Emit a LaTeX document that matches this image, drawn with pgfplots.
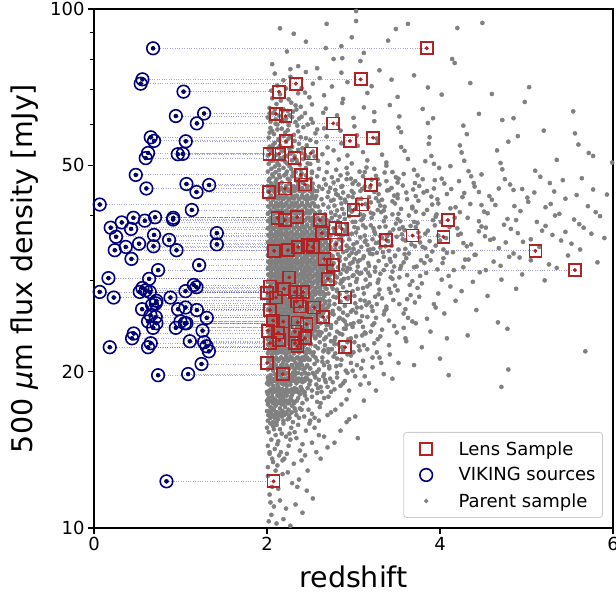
\documentclass[border=0pt]{standalone}
\usepackage{pgfplots}
\pgfplotsset{compat=1.18}
\usepackage{pgfplotstable}
\usepackage{fontspec}
\setmainfont{DejaVu Sans}
\definecolor{lensred}{RGB}{178,34,34}
\definecolor{vikblue}{RGB}{0,0,128}
\definecolor{parentgrey}{RGB}{128,128,128}

% VIKING source redshift (zv), redshift of matched lens (zl), 500um flux (S)
\pgfplotstableread{
zv zl S
0.683 3.847 84.0
0.560 3.083 73.2
0.540 2.334 71.8
1.035 2.138 69.3
0.946 2.215 62.2
1.273 2.103 62.9
1.189 2.766 60.2
0.656 3.226 56.6
0.694 2.959 55.7
1.061 2.219 55.6
0.625 2.505 52.8
0.598 2.319 51.6
0.969 2.141 52.5
1.027 2.030 52.6
0.483 2.392 47.9
0.606 2.207 45.1
1.069 2.439 46.0
1.185 2.025 44.4
1.331 3.199 45.8
0.066 3.098 42.0
1.131 3.000 41.0
0.193 2.792 37.9
0.321 2.612 38.8
0.456 2.123 39.6
0.587 4.091 39.1
0.706 2.350 39.7
0.914 2.207 39.3
0.917 2.350 39.6
0.428 2.869 37.7
0.255 4.039 36.4
0.694 3.683 36.7
0.868 3.376 35.9
0.521 2.801 35.3
0.688 2.528 34.9
0.367 2.361 34.8
0.240 5.103 34.3
0.954 2.242 34.3
1.420 2.635 37.0
1.420 2.473 35.2
0.433 2.664 33.0
0.741 5.560 31.4
1.215 2.759 32.1
0.167 2.257 30.3
0.637 2.705 30.2
0.066 2.002 28.5
0.228 2.103 27.8
0.560 2.196 29.0
0.598 2.323 28.7
0.529 2.419 28.5
0.645 2.323 28.5
1.058 2.419 28.6
1.154 2.034 29.4
1.185 2.196 29.1
0.884 2.904 27.8
0.722 2.343 27.4
0.556 2.034 26.4
0.671 2.381 26.9
0.714 2.343 27.1
0.972 2.381 26.4
1.058 2.546 26.6
1.189 2.034 26.3
0.653 2.650 25.7
0.714 2.650 25.5
0.625 2.188 25.0
0.722 2.458 24.8
0.683 2.323 24.3
1.000 2.354 25.0
1.050 2.458 24.8
1.069 2.354 24.8
0.946 2.014 24.3
1.304 2.072 25.4
1.255 2.130 24.0
0.459 2.323 23.7
0.440 2.439 23.2
1.108 2.141 22.9
0.656 2.323 22.7
0.625 2.902 22.3
0.182 2.354 22.3
1.273 2.034 22.8
1.301 2.354 22.4
1.328 2.034 21.9
1.243 2.002 20.7
0.741 2.181 19.7
1.088 2.181 19.8
0.838 2.076 12.3
}\pairs

\pgfplotstableread{
z S
3.847 84.0
3.083 73.2
2.334 71.8
2.138 69.3
2.103 62.8
2.215 62.2
2.766 60.2
2.219 55.6
2.959 55.7
3.226 56.5
2.030 52.5
2.141 52.6
2.319 51.6
2.505 52.7
2.392 47.9
2.439 45.9
2.207 45.1
2.025 44.4
3.199 45.8
3.000 41.0
3.098 42.0
2.123 39.6
2.207 39.2
2.350 39.7
2.612 39.2
2.635 37.0
2.792 37.8
2.869 37.7
2.083 34.2
2.242 34.3
2.361 34.8
2.473 35.1
2.528 34.8
2.801 35.2
3.376 35.9
3.683 36.6
4.039 36.4
4.091 39.2
5.103 34.2
5.560 31.4
2.664 33.0
2.759 32.1
2.705 30.2
2.257 30.4
2.034 29.2
2.196 28.9
2.323 28.5
2.419 28.5
2.904 27.8
2.002 28.4
2.103 27.8
2.343 27.3
2.381 26.7
2.546 26.6
2.650 25.5
2.034 26.3
2.072 25.1
2.188 25.0
2.354 24.9
2.458 24.7
2.014 24.0
2.130 23.8
2.323 23.9
2.439 23.2
2.141 23.0
2.034 22.7
2.323 22.7
2.354 22.4
2.902 22.3
2.002 20.8
2.181 19.8
2.076 12.3
}\lens

\pgfplotstableread{
z S
2.02 10.3
2.05 10.6
2.11 10.2
2.19 10.4
2.27 10.1
2.08 11.0
2.15 11.3
2.03 11.6
2.22 10.9
2.33 11.1
2.41 10.7
2.06 12.0
2.13 11.9
2.29 12.2
2.01 12.6
2.18 12.7
2.37 12.4
2.10 12.9
2.46 11.8
2.24 12.8
2.53 11.4
2.04 11.2
2.01 13.1
2.07 13.4
2.12 13.2
2.20 13.6
2.31 13.3
2.44 13.8
2.03 13.9
2.09 14.2
2.16 14.0
2.25 14.4
2.38 14.1
2.52 14.6
2.05 14.8
2.13 14.7
2.22 15.0
2.34 14.9
2.02 15.3
2.08 15.5
2.17 15.2
2.28 15.6
2.45 15.4
2.60 15.1
2.11 15.8
2.04 15.9
2.19 15.9
2.36 15.8
2.06 13.6
2.14 13.8
2.27 14.8
2.01 14.4
2.10 15.1
2.23 13.9
2.41 14.5
2.70 14.3
2.03 14.0
2.15 15.5
2.32 15.3
2.49 15.9
2.00 15.6
2.12 14.5
2.26 15.2
2.57 14.0
2.07 15.7
2.18 13.5
2.40 13.5
2.85 15.4
3.05 14.9
2.01 16.1
2.04 16.3
2.07 16.0
2.10 16.4
2.13 16.2
2.16 16.5
2.19 16.1
2.22 16.6
2.26 16.3
2.30 16.0
2.34 16.5
2.02 16.8
2.05 16.6
2.08 16.9
2.12 16.7
2.15 17.0
2.18 16.8
2.21 17.1
2.25 16.9
2.29 17.2
2.33 16.8
2.38 17.0
2.43 16.4
2.48 16.9
2.55 16.3
2.61 17.1
2.01 17.3
2.04 17.1
2.07 17.4
2.10 17.2
2.13 17.5
2.17 17.3
2.20 17.6
2.24 17.4
2.27 17.7
2.31 17.5
2.36 17.8
2.41 17.4
2.46 17.7
2.52 17.9
2.58 17.5
2.66 17.8
2.74 16.7
2.02 17.8
2.06 17.9
2.09 17.7
2.12 18.0
2.15 17.8
2.19 17.9
2.23 18.0
2.28 17.9
2.03 16.5
2.11 16.0
2.24 16.2
2.37 16.3
2.50 16.1
2.86 17.3
2.95 16.2
3.12 17.6
2.40 16.9
2.06 17.0
2.17 16.4
2.32 17.0
2.00 16.8
2.00 17.6
2.09 16.3
2.44 18.0
2.70 16.5
2.01 18.1
2.03 18.4
2.06 18.2
2.08 18.6
2.11 18.3
2.13 18.7
2.16 18.1
2.18 18.5
2.21 18.2
2.23 18.8
2.26 18.4
2.29 18.1
2.32 18.6
2.35 18.3
2.39 18.7
2.43 18.2
2.47 18.6
2.52 18.4
2.57 18.9
2.63 18.3
2.70 18.7
2.78 18.5
2.02 18.9
2.05 19.1
2.07 18.8
2.10 19.2
2.12 18.9
2.15 19.3
2.17 19.0
2.20 19.4
2.22 19.1
2.25 19.5
2.28 19.2
2.31 19.6
2.34 19.0
2.37 19.4
2.41 19.1
2.45 19.5
2.50 19.2
2.55 19.7
2.60 19.3
2.66 19.8
2.73 19.4
2.81 19.9
2.90 19.2
3.02 19.6
3.18 19.0
3.35 19.8
4.10 19.7
4.71 18.7
2.01 19.5
2.04 19.7
2.06 19.4
2.09 19.8
2.11 19.6
2.14 19.9
2.16 19.7
2.19 20.0
2.21 19.8
2.24 19.9
2.27 19.7
2.30 19.9
2.33 19.8
2.36 19.9
2.40 19.8
2.44 19.9
2.48 19.8
2.53 19.9
2.00 18.3
2.00 19.0
2.14 18.4
2.27 18.9
2.38 18.1
2.49 18.9
2.58 18.2
2.68 19.1
2.85 18.8
2.95 18.4
3.08 18.9
2.19 18.9
2.08 19.3
2.31 18.4
2.42 19.3
2.56 19.5
2.62 18.7
2.76 19.1
2.01 20.2
2.04 20.4
2.07 20.1
2.09 20.5
2.12 20.3
2.15 20.1
2.17 20.6
2.20 20.2
2.23 20.5
2.26 20.3
2.29 20.6
2.32 20.1
2.35 20.4
2.38 20.7
2.42 20.2
2.46 20.5
2.50 20.3
2.55 20.7
2.60 20.2
2.66 20.6
2.72 20.3
2.80 20.5
2.91 20.1
3.04 20.6
3.22 20.4
4.79 20.2
2.02 20.9
2.05 21.1
2.08 20.8
2.10 21.2
2.13 21.0
2.16 21.3
2.19 20.9
2.21 21.2
2.24 21.0
2.27 21.4
2.30 21.1
2.33 20.8
2.36 21.3
2.40 21.0
2.44 21.4
2.48 21.1
2.53 21.5
2.58 21.0
2.64 21.3
2.70 20.9
2.77 21.4
2.86 21.1
2.97 21.5
3.11 21.0
3.30 21.3
3.52 20.8
2.01 21.7
2.03 22.0
2.06 21.6
2.09 21.9
2.11 21.7
2.14 22.1
2.17 21.8
2.20 22.2
2.22 21.6
2.25 21.9
2.28 22.2
2.31 21.7
2.34 22.0
2.37 21.8
2.41 22.2
2.45 21.7
2.49 22.0
2.54 21.8
2.59 22.2
2.65 21.9
2.71 22.1
2.79 21.7
2.88 22.0
3.00 21.8
3.16 22.1
3.42 21.6
5.68 21.9
2.02 22.5
2.05 22.8
2.07 22.4
2.10 22.7
2.13 22.4
2.15 22.9
2.18 22.6
2.21 22.4
2.24 22.8
2.27 22.5
2.30 22.9
2.33 22.6
2.36 22.4
2.39 22.8
2.43 22.5
2.47 22.9
2.51 22.6
2.56 22.4
2.61 22.8
2.67 22.5
2.74 22.9
2.82 22.6
2.93 22.8
3.06 22.4
3.24 22.7
3.61 22.9
2.01 23.1
2.04 23.3
2.06 23.0
2.09 23.4
2.12 23.2
2.14 23.5
2.17 23.1
2.20 23.4
2.23 23.2
2.25 23.6
2.28 23.0
2.31 23.3
2.34 23.6
2.37 23.2
2.40 23.5
2.44 23.1
2.48 23.4
2.52 23.7
2.56 23.2
2.61 23.5
2.66 23.1
2.72 23.6
2.79 23.3
2.87 23.6
2.97 23.2
3.10 23.5
3.28 23.1
3.89 23.9
2.02 23.8
2.05 24.1
2.08 23.9
2.11 24.2
2.13 23.8
2.16 24.1
2.19 24.3
2.22 23.9
2.24 24.2
2.27 24.4
2.30 23.8
2.33 24.1
2.36 24.3
2.39 23.9
2.42 24.2
2.46 24.4
2.50 23.9
2.54 24.2
2.58 24.4
2.63 23.8
2.68 24.1
2.74 24.3
2.81 23.9
2.89 24.2
2.99 24.4
3.13 23.8
3.33 24.1
3.58 24.3
4.78 24.2
2.01 24.7
2.03 25.0
2.06 24.6
2.09 24.9
2.12 25.1
2.15 24.7
2.18 25.0
2.21 24.6
2.23 24.9
2.26 25.2
2.29 24.7
2.32 25.0
2.35 24.6
2.38 24.9
2.41 25.2
2.45 24.7
2.49 25.0
2.53 24.6
2.57 25.2
2.62 24.8
2.67 25.1
2.73 24.6
2.80 24.9
2.88 25.2
2.97 24.7
3.08 25.0
3.22 24.6
3.41 25.1
3.72 24.8
4.67 24.9
2.02 25.5
2.05 25.8
2.07 25.4
2.10 25.7
2.13 25.9
2.16 25.5
2.18 25.8
2.21 25.4
2.24 25.7
2.27 26.0
2.30 25.5
2.33 25.8
2.36 25.4
2.39 25.7
2.43 26.0
2.47 25.5
2.51 25.8
2.55 25.4
2.60 25.7
2.65 26.0
2.71 25.5
2.77 25.8
2.84 25.4
2.93 25.7
3.03 26.0
3.16 25.5
3.35 25.8
3.63 25.4
4.05 25.9
2.01 26.3
2.04 26.6
2.06 26.2
2.09 26.5
2.12 26.8
2.14 26.3
2.17 26.6
2.20 26.2
2.23 26.5
2.26 26.8
2.29 26.3
2.32 26.6
2.35 26.2
2.38 26.5
2.41 26.8
2.45 26.3
2.48 26.6
2.52 26.2
2.56 26.5
2.60 26.8
2.65 26.3
2.70 26.6
2.76 26.2
2.83 26.5
2.90 26.8
2.99 26.3
3.09 26.6
3.22 26.2
3.38 26.7
3.60 26.4
3.95 26.6
4.42 26.3
2.02 27.1
2.05 27.4
2.07 27.0
2.10 27.3
2.13 27.6
2.16 27.1
2.19 27.4
2.21 27.0
2.24 27.3
2.27 27.6
2.30 27.1
2.33 27.4
2.36 27.0
2.40 27.3
2.43 27.6
2.47 27.1
2.50 27.4
2.54 27.0
2.58 27.3
2.62 27.6
2.67 27.1
2.72 27.4
2.78 27.0
2.85 27.3
2.93 27.6
3.02 27.1
3.13 27.4
3.27 27.0
3.46 27.5
3.71 27.2
4.18 27.4
2.01 28.0
2.03 28.3
2.06 27.9
2.09 28.2
2.11 28.5
2.14 28.0
2.17 28.3
2.20 27.9
2.22 28.2
2.25 28.5
2.28 28.0
2.31 28.3
2.34 27.9
2.37 28.2
2.41 28.5
2.44 28.0
2.48 28.3
2.52 27.9
2.56 28.2
2.61 28.5
2.66 28.0
2.71 28.3
2.77 27.9
2.84 28.2
2.92 28.5
3.01 28.0
3.12 28.3
3.25 27.9
3.43 28.4
3.66 28.1
3.98 28.3
4.55 28.0
2.02 28.9
2.05 29.2
2.08 28.8
2.10 29.1
2.13 29.4
2.16 28.9
2.19 29.2
2.22 28.8
2.24 29.1
2.27 29.4
2.30 28.9
2.33 29.2
2.36 28.8
2.40 29.1
2.43 29.4
2.47 28.9
2.51 29.2
2.55 28.8
2.59 29.1
2.64 29.4
2.69 28.9
2.75 29.2
2.81 28.8
2.88 29.1
2.96 29.4
3.05 28.9
3.16 29.2
3.30 28.8
3.48 29.3
3.74 29.0
4.12 29.2
4.88 28.9
2.01 29.8
2.04 30.1
2.06 29.7
2.09 30.0
2.12 30.3
2.15 29.8
2.18 30.1
2.20 29.7
2.23 30.0
2.26 30.3
2.29 29.8
2.32 30.1
2.35 29.7
2.38 30.0
2.42 30.3
2.46 29.8
2.49 30.1
2.53 29.7
2.58 30.0
2.62 30.3
2.67 29.8
2.73 30.1
2.79 29.7
2.86 30.0
2.94 30.3
3.03 29.8
3.14 30.1
3.28 29.7
3.45 30.2
3.68 29.9
4.02 30.1
4.38 29.8
5.21 30.0
2.02 30.7
2.05 31.0
2.07 30.6
2.10 30.9
2.13 31.2
2.16 30.7
2.19 31.0
2.21 30.6
2.24 30.9
2.27 31.2
2.30 30.7
2.33 31.0
2.36 30.6
2.40 30.9
2.43 31.2
2.47 30.7
2.50 31.0
2.54 30.6
2.58 30.9
2.63 31.2
2.68 30.7
2.73 31.0
2.79 30.6
2.85 30.9
2.92 31.2
3.00 30.7
3.09 31.0
3.19 30.6
3.31 30.9
3.45 31.2
3.62 30.7
3.84 31.0
4.10 30.6
4.46 31.1
4.95 30.8
2.01 31.6
2.03 31.9
2.06 31.5
2.09 31.8
2.11 32.1
2.14 31.6
2.17 31.9
2.20 31.5
2.22 31.8
2.25 32.1
2.28 31.6
2.31 31.9
2.34 31.5
2.38 31.8
2.41 32.1
2.45 31.6
2.48 31.9
2.52 31.5
2.56 31.8
2.61 32.1
2.65 31.6
2.70 31.9
2.76 31.5
2.82 31.8
2.89 32.1
2.96 31.6
3.05 31.9
3.14 31.5
3.25 31.8
3.38 32.1
3.54 31.6
3.73 31.9
3.97 31.5
4.27 31.8
4.70 32.0
5.35 31.7
2.02 32.5
2.05 32.8
2.08 32.4
2.10 32.7
2.13 33.0
2.16 32.5
2.18 32.8
2.21 32.4
2.24 32.7
2.27 33.0
2.30 32.5
2.33 32.8
2.36 32.4
2.39 32.7
2.43 33.0
2.46 32.5
2.50 32.8
2.54 32.4
2.58 32.7
2.62 33.0
2.67 32.5
2.72 32.8
2.77 32.4
2.84 32.7
2.91 33.0
2.99 32.5
3.07 32.8
3.17 32.4
3.29 32.7
3.42 33.0
3.58 32.5
3.78 32.8
4.03 32.4
4.33 32.9
4.62 32.6
5.05 32.8
5.82 32.5
2.01 33.5
2.04 33.8
2.07 33.4
2.09 33.7
2.12 34.0
2.15 33.5
2.18 33.8
2.20 33.4
2.23 33.7
2.26 34.0
2.29 33.5
2.32 33.8
2.35 33.4
2.38 33.7
2.42 34.0
2.45 33.5
2.49 33.8
2.53 33.4
2.57 33.7
2.61 34.0
2.66 33.5
2.71 33.8
2.76 33.4
2.82 33.7
2.88 34.0
2.95 33.5
3.03 33.8
3.12 33.4
3.22 33.7
3.34 34.0
3.48 33.5
3.64 33.8
3.85 33.4
4.08 33.9
4.40 33.6
4.85 33.8
5.48 33.5
2.02 34.5
2.05 34.8
2.07 34.4
2.10 34.7
2.13 35.0
2.16 34.5
2.19 34.8
2.21 34.4
2.24 34.7
2.27 35.0
2.30 34.5
2.33 34.8
2.36 34.4
2.40 34.7
2.43 35.0
2.47 34.5
2.50 34.8
2.54 34.4
2.59 34.7
2.63 35.0
2.68 34.5
2.73 34.8
2.79 34.4
2.85 34.7
2.92 35.0
3.00 34.5
3.09 34.8
3.19 34.4
3.31 34.7
3.44 35.0
3.60 34.5
3.80 34.8
4.04 34.4
4.31 34.9
4.68 34.6
5.15 34.8
5.62 34.4
2.01 35.5
2.04 35.8
2.06 35.4
2.09 35.7
2.12 36.0
2.15 35.5
2.17 35.8
2.20 35.4
2.23 35.7
2.26 36.0
2.29 35.5
2.32 35.8
2.35 35.4
2.39 35.7
2.42 36.0
2.46 35.5
2.50 35.8
2.54 35.4
2.58 35.7
2.63 36.0
2.68 35.5
2.74 35.8
2.80 35.4
2.87 35.7
2.95 36.0
3.04 35.5
3.14 35.8
3.26 35.4
3.40 35.7
3.57 36.0
3.77 35.5
4.00 35.8
4.27 35.4
4.58 35.9
4.96 35.6
5.40 35.8
2.02 36.6
2.05 36.9
2.08 36.5
2.11 36.8
2.14 37.1
2.17 36.6
2.20 36.9
2.22 36.5
2.25 36.8
2.28 37.1
2.31 36.6
2.34 36.9
2.38 36.5
2.41 36.8
2.45 37.1
2.49 36.6
2.53 36.9
2.57 36.5
2.62 36.8
2.67 37.1
2.73 36.6
2.79 36.9
2.86 36.5
2.94 36.8
3.03 37.1
3.13 36.6
3.25 36.9
3.39 36.5
3.56 36.8
3.75 37.1
3.98 36.6
4.24 36.9
4.52 36.5
4.90 37.0
5.30 36.7
5.75 36.9
2.01 37.8
2.04 38.1
2.07 37.7
2.10 38.0
2.13 38.3
2.16 37.8
2.19 38.1
2.22 37.7
2.25 38.0
2.28 38.3
2.31 37.8
2.35 38.1
2.38 37.7
2.42 38.0
2.46 38.3
2.50 37.8
2.55 38.1
2.60 37.7
2.65 38.0
2.71 38.3
2.77 37.8
2.84 38.1
2.92 37.7
3.01 38.0
3.11 38.3
3.23 37.8
3.37 38.1
3.53 37.7
3.72 38.0
3.94 38.3
4.20 37.8
4.48 38.1
4.82 37.7
5.22 38.2
5.66 37.9
2.02 39.0
2.05 39.4
2.08 38.9
2.11 39.2
2.14 39.6
2.17 39.0
2.20 39.4
2.23 38.9
2.26 39.2
2.30 39.6
2.33 39.0
2.37 39.4
2.40 38.9
2.44 39.2
2.48 39.6
2.53 39.0
2.58 39.4
2.63 38.9
2.69 39.2
2.75 39.6
2.82 39.0
2.90 39.4
2.99 38.9
3.09 39.2
3.21 39.6
3.35 39.0
3.51 39.4
3.70 38.9
3.92 39.2
4.17 39.6
4.45 39.0
4.78 39.4
5.12 38.9
5.55 39.3
2.01 40.3
2.04 40.7
2.07 40.2
2.10 40.5
2.13 40.9
2.17 40.3
2.20 40.7
2.23 40.2
2.27 40.5
2.30 40.9
2.34 40.3
2.38 40.7
2.42 40.2
2.46 40.5
2.51 40.9
2.56 40.3
2.61 40.7
2.67 40.2
2.74 40.5
2.81 40.9
2.89 40.3
2.98 40.7
3.08 40.2
3.20 40.5
3.35 40.9
3.52 40.3
3.72 40.7
3.96 40.2
4.23 40.6
4.55 40.4
4.93 40.8
5.38 40.3
5.80 40.6
2.02 41.6
2.05 42.0
2.08 41.5
2.11 41.8
2.15 42.2
2.18 41.6
2.21 42.0
2.25 41.5
2.28 41.8
2.32 42.2
2.36 41.6
2.40 42.0
2.44 41.5
2.49 41.8
2.54 42.2
2.59 41.6
2.65 42.0
2.71 41.5
2.78 41.8
2.86 42.2
2.95 41.6
3.05 42.0
3.17 41.5
3.31 41.8
3.48 42.2
3.68 41.6
3.91 42.0
4.18 41.5
4.48 41.9
4.86 41.7
5.28 42.1
2.01 43.0
2.04 43.4
2.07 42.9
2.11 43.2
2.14 43.6
2.18 43.0
2.21 43.4
2.25 42.9
2.29 43.2
2.33 43.6
2.37 43.0
2.42 43.4
2.46 42.9
2.51 43.2
2.57 43.6
2.63 43.0
2.70 43.4
2.77 42.9
2.85 43.2
2.94 43.6
3.05 43.0
3.18 43.4
3.33 42.9
3.51 43.2
3.72 43.6
3.97 43.0
4.26 43.4
4.60 42.9
5.01 43.3
5.45 43.1
5.93 43.9
2.02 44.4
2.06 44.8
2.09 44.3
2.13 44.6
2.16 45.0
2.20 44.4
2.24 44.8
2.28 44.3
2.32 44.6
2.37 45.0
2.41 44.4
2.46 44.8
2.52 44.3
2.58 44.6
2.64 45.0
2.71 44.4
2.79 44.8
2.88 44.3
2.98 44.6
3.10 45.0
3.24 44.4
3.41 44.8
3.61 44.3
3.85 44.6
4.13 45.0
4.45 44.4
4.85 44.8
5.32 44.5
5.77 44.9
2.01 45.6
2.05 46.1
2.09 45.5
2.13 45.9
2.17 46.3
2.22 45.6
2.26 46.1
2.31 45.5
2.36 45.9
2.41 46.3
2.47 45.6
2.53 46.1
2.60 45.5
2.68 45.9
2.77 46.3
2.87 45.6
2.99 46.1
3.13 45.5
3.30 45.9
3.51 46.3
3.76 45.6
4.05 46.1
4.40 45.5
4.81 45.9
5.27 46.2
2.03 47.1
2.07 47.6
2.11 47.0
2.15 47.4
2.20 47.8
2.24 47.1
2.29 47.6
2.34 47.0
2.39 47.4
2.45 47.8
2.51 47.1
2.58 47.6
2.66 47.0
2.75 47.4
2.85 47.8
2.97 47.1
3.11 47.6
3.28 47.0
3.49 47.4
3.74 47.8
4.02 47.1
4.36 47.6
4.75 47.0
5.16 47.5
5.64 47.2
2.01 48.6
2.05 49.2
2.10 48.5
2.14 49.0
2.19 49.4
2.23 48.6
2.28 49.2
2.33 48.5
2.39 49.0
2.45 49.4
2.52 48.6
2.60 49.2
2.69 48.5
2.80 49.0
2.92 49.4
3.07 48.6
3.24 49.2
3.45 48.5
3.70 49.0
3.99 49.4
4.33 48.7
4.72 49.1
5.10 48.8
5.99 50.6
2.02 50.3
2.07 51.0
2.12 50.5
2.17 51.3
2.23 50.4
2.29 51.1
2.35 50.6
2.42 51.4
2.50 50.3
2.59 51.0
2.70 50.5
2.83 51.3
2.98 50.4
3.16 51.1
3.38 50.6
3.63 51.4
3.93 50.3
4.28 51.0
4.70 50.5
5.35 51.2
2.01 52.2
2.06 53.0
2.11 52.4
2.17 53.3
2.23 52.1
2.29 52.9
2.36 53.5
2.44 52.3
2.53 53.1
2.64 52.5
2.77 53.4
2.93 52.2
3.11 53.0
3.33 52.4
3.59 53.3
3.90 52.1
4.25 52.9
4.66 53.4
2.03 54.3
2.09 55.2
2.15 54.5
2.22 55.5
2.29 54.2
2.37 55.0
2.46 54.6
2.57 55.4
2.70 54.1
2.86 55.1
3.05 54.5
3.28 55.3
3.55 54.2
3.87 55.0
4.23 54.6
4.79 55.5
5.60 54.8
2.02 56.5
2.08 57.4
2.14 56.2
2.21 57.8
2.28 56.9
2.36 58.1
2.45 56.4
2.56 57.6
2.69 56.8
2.85 58.3
3.04 57.1
3.27 56.3
3.55 57.9
3.88 56.6
4.31 57.4
4.90 56.9
2.04 59.0
2.10 60.1
2.17 58.8
2.25 59.7
2.33 60.6
2.42 59.2
2.53 60.4
2.66 58.9
2.82 60.0
3.01 59.4
3.24 60.8
3.52 59.1
3.86 60.3
4.27 59.6
2.01 61.8
2.07 63.0
2.14 62.3
2.22 61.5
2.30 63.4
2.40 62.0
2.51 61.4
2.65 63.1
2.81 62.4
3.00 61.7
3.24 63.3
3.53 62.1
3.92 61.6
4.45 62.8
2.03 64.5
2.11 65.6
2.19 64.1
2.28 66.0
2.39 64.8
2.52 65.5
2.68 64.3
2.87 65.9
3.12 64.6
3.42 65.3
3.80 64.2
2.06 67.3
2.15 68.5
2.25 67.0
2.36 68.8
2.49 67.6
2.66 68.2
2.88 67.1
3.16 68.9
3.51 67.7
4.02 68.4
2.06 78.3
2.27 76.6
2.36 77.6
2.45 75.6
2.27 74.0
2.12 71.2
2.19 72.9
2.40 70.4
2.53 71.8
2.61 73.6
2.75 70.9
2.93 72.3
3.21 71.0
3.44 73.1
3.86 70.6
4.35 72.0
2.09 75.1
2.58 76.9
2.86 75.4
3.30 76.2
3.70 74.5
2.77 80.1
2.87 80.4
3.08 79.4
4.14 80.1
4.17 78.7
2.68 84.1
2.86 84.8
3.12 82.3
2.23 82.8
2.45 86.5
2.69 93.6
3.63 93.6
3.49 91.5
4.20 91.9
4.49 94.0
3.03 94.8
3.03 99.1
2.31 89.6
2.15 91.8
2.98 88.2
3.40 86.9
5.54 63.5
4.98 66.2
5.20 58.3
5.72 52.8
5.03 70.7
4.60 68.6
5.56 57.6
5.77 52.1
4.85 61.6
4.72 61.1
}\parent

% further parent-sample sources (dense core and intermediate redshifts)
\pgfplotstableread{
z S
2.015 16.5
2.045 16.7
2.075 16.5
2.105 16.7
2.135 16.5
2.165 16.7
2.195 16.5
2.225 16.7
2.255 16.5
2.285 16.7
2.015 17.4
2.045 17.6
2.075 17.4
2.105 17.6
2.135 17.4
2.165 17.6
2.195 17.4
2.225 17.6
2.255 17.4
2.285 17.6
2.315 17.4
2.345 17.6
2.015 18.3
2.045 18.5
2.075 18.3
2.105 18.5
2.135 18.3
2.165 18.5
2.195 18.3
2.225 18.5
2.255 18.3
2.285 18.5
2.315 18.3
2.345 18.5
2.375 18.3
2.405 18.5
2.435 18.3
2.015 19.2
2.045 19.4
2.075 19.2
2.105 19.4
2.135 19.2
2.165 19.4
2.195 19.2
2.225 19.4
2.255 19.2
2.285 19.4
2.315 19.2
2.345 19.4
2.375 19.2
2.405 19.4
2.435 19.2
2.465 19.4
2.495 19.2
2.015 20.3
2.045 20.6
2.075 20.3
2.105 20.6
2.135 20.3
2.165 20.6
2.195 20.3
2.225 20.6
2.255 20.3
2.285 20.6
2.315 20.3
2.345 20.6
2.375 20.3
2.405 20.6
2.435 20.3
2.465 20.6
2.495 20.3
2.015 21.1
2.045 21.3
2.075 21.1
2.105 21.3
2.135 21.1
2.165 21.3
2.195 21.1
2.225 21.3
2.255 21.1
2.285 21.3
2.315 21.1
2.345 21.3
2.375 21.1
2.405 21.3
2.435 21.1
2.465 21.3
2.495 21.1
2.015 21.8
2.045 22.1
2.075 21.8
2.105 22.1
2.135 21.8
2.165 22.1
2.195 21.8
2.225 22.1
2.255 21.8
2.285 22.1
2.315 21.8
2.345 22.1
2.375 21.8
2.405 22.1
2.435 21.8
2.465 22.1
2.495 21.8
2.015 22.6
2.045 22.8
2.075 22.6
2.105 22.8
2.135 22.6
2.165 22.8
2.195 22.6
2.225 22.8
2.255 22.6
2.285 22.8
2.315 22.6
2.345 22.8
2.375 22.6
2.405 22.8
2.435 22.6
2.465 22.8
2.495 22.6
2.015 23.3
2.045 23.6
2.075 23.3
2.105 23.6
2.135 23.3
2.165 23.6
2.195 23.3
2.225 23.6
2.255 23.3
2.285 23.6
2.315 23.3
2.345 23.6
2.375 23.3
2.405 23.6
2.435 23.3
2.465 23.6
2.495 23.3
2.525 23.6
2.555 23.3
2.585 23.6
2.015 24.0
2.045 24.4
2.075 24.0
2.105 24.4
2.135 24.0
2.165 24.4
2.195 24.0
2.225 24.4
2.255 24.0
2.285 24.4
2.315 24.0
2.345 24.4
2.375 24.0
2.405 24.4
2.435 24.0
2.465 24.4
2.495 24.0
2.525 24.4
2.555 24.0
2.585 24.4
2.015 24.8
2.045 25.2
2.075 24.8
2.105 25.2
2.135 24.8
2.165 25.2
2.195 24.8
2.225 25.2
2.255 24.8
2.285 25.2
2.315 24.8
2.345 25.2
2.375 24.8
2.405 25.2
2.435 24.8
2.465 25.2
2.495 24.8
2.525 25.2
2.555 24.8
2.585 25.2
2.015 25.6
2.045 26.0
2.075 25.6
2.105 26.0
2.135 25.6
2.165 26.0
2.195 25.6
2.225 26.0
2.255 25.6
2.285 26.0
2.315 25.6
2.345 26.0
2.375 25.6
2.405 26.0
2.435 25.6
2.465 26.0
2.495 25.6
2.525 26.0
2.555 25.6
2.585 26.0
2.015 26.4
2.045 26.8
2.075 26.4
2.105 26.8
2.135 26.4
2.165 26.8
2.195 26.4
2.225 26.8
2.255 26.4
2.285 26.8
2.315 26.4
2.345 26.8
2.375 26.4
2.405 26.8
2.435 26.4
2.465 26.8
2.495 26.4
2.525 26.8
2.555 26.4
2.585 26.8
2.615 26.4
2.645 26.8
2.675 26.4
2.015 27.3
2.045 27.6
2.075 27.3
2.105 27.6
2.135 27.3
2.165 27.6
2.195 27.3
2.225 27.6
2.255 27.3
2.285 27.6
2.315 27.3
2.345 27.6
2.375 27.3
2.405 27.6
2.435 27.3
2.465 27.6
2.495 27.3
2.525 27.6
2.555 27.3
2.585 27.6
2.615 27.3
2.645 27.6
2.675 27.3
2.015 28.2
2.045 28.5
2.075 28.2
2.105 28.5
2.135 28.2
2.165 28.5
2.195 28.2
2.225 28.5
2.255 28.2
2.285 28.5
2.315 28.2
2.345 28.5
2.375 28.2
2.405 28.5
2.435 28.2
2.465 28.5
2.495 28.2
2.525 28.5
2.555 28.2
2.585 28.5
2.615 28.2
2.645 28.5
2.675 28.2
2.015 29.0
2.045 29.5
2.075 29.0
2.105 29.5
2.135 29.0
2.165 29.5
2.195 29.0
2.225 29.5
2.255 29.0
2.285 29.5
2.315 29.0
2.345 29.5
2.375 29.0
2.405 29.5
2.435 29.0
2.465 29.5
2.495 29.0
2.525 29.5
2.555 29.0
2.585 29.5
2.615 29.0
2.645 29.5
2.675 29.0
2.015 29.9
2.045 30.4
2.075 29.9
2.105 30.4
2.135 29.9
2.165 30.4
2.195 29.9
2.225 30.4
2.255 29.9
2.285 30.4
2.315 29.9
2.345 30.4
2.375 29.9
2.405 30.4
2.435 29.9
2.465 30.4
2.495 29.9
2.525 30.4
2.555 29.9
2.585 30.4
2.615 29.9
2.645 30.4
2.675 29.9
2.705 30.4
2.735 29.9
2.015 30.8
2.045 31.3
2.075 30.8
2.105 31.3
2.135 30.8
2.165 31.3
2.195 30.8
2.225 31.3
2.255 30.8
2.285 31.3
2.315 30.8
2.345 31.3
2.375 30.8
2.405 31.3
2.435 30.8
2.465 31.3
2.495 30.8
2.525 31.3
2.555 30.8
2.585 31.3
2.615 30.8
2.645 31.3
2.675 30.8
2.705 31.3
2.735 30.8
2.015 31.7
2.045 32.2
2.075 31.7
2.105 32.2
2.135 31.7
2.165 32.2
2.195 31.7
2.225 32.2
2.255 31.7
2.285 32.2
2.315 31.7
2.345 32.2
2.375 31.7
2.405 32.2
2.435 31.7
2.465 32.2
2.495 31.7
2.525 32.2
2.555 31.7
2.585 32.2
2.615 31.7
2.645 32.2
2.675 31.7
2.705 32.2
2.735 31.7
2.015 32.6
2.045 33.1
2.075 32.6
2.105 33.1
2.135 32.6
2.165 33.1
2.195 32.6
2.225 33.1
2.255 32.6
2.285 33.1
2.315 32.6
2.345 33.1
2.375 32.6
2.405 33.1
2.435 32.6
2.465 33.1
2.495 32.6
2.525 33.1
2.555 32.6
2.585 33.1
2.615 32.6
2.645 33.1
2.675 32.6
2.705 33.1
2.735 32.6
2.015 33.6
2.045 34.1
2.075 33.6
2.105 34.1
2.135 33.6
2.165 34.1
2.195 33.6
2.225 34.1
2.255 33.6
2.285 34.1
2.315 33.6
2.345 34.1
2.375 33.6
2.405 34.1
2.435 33.6
2.465 34.1
2.495 33.6
2.525 34.1
2.555 33.6
2.585 34.1
2.615 33.6
2.645 34.1
2.675 33.6
2.705 34.1
2.735 33.6
2.015 34.6
2.045 35.1
2.075 34.6
2.105 35.1
2.135 34.6
2.165 35.1
2.195 34.6
2.225 35.1
2.255 34.6
2.285 35.1
2.315 34.6
2.345 35.1
2.375 34.6
2.405 35.1
2.435 34.6
2.465 35.1
2.495 34.6
2.525 35.1
2.555 34.6
2.585 35.1
2.615 34.6
2.645 35.1
2.675 34.6
2.705 35.1
2.735 34.6
2.015 35.6
2.045 36.1
2.075 35.6
2.105 36.1
2.135 35.6
2.165 36.1
2.195 35.6
2.225 36.1
2.255 35.6
2.285 36.1
2.315 35.6
2.345 36.1
2.375 35.6
2.405 36.1
2.435 35.6
2.465 36.1
2.495 35.6
2.525 36.1
2.555 35.6
2.585 36.1
2.615 35.6
2.645 36.1
2.675 35.6
2.015 36.7
2.045 37.2
2.075 36.7
2.105 37.2
2.135 36.7
2.165 37.2
2.195 36.7
2.225 37.2
2.255 36.7
2.285 37.2
2.315 36.7
2.345 37.2
2.375 36.7
2.405 37.2
2.435 36.7
2.465 37.2
2.495 36.7
2.525 37.2
2.555 36.7
2.585 37.2
2.615 36.7
2.645 37.2
2.675 36.7
2.015 37.8
2.045 38.4
2.075 37.8
2.105 38.4
2.135 37.8
2.165 38.4
2.195 37.8
2.225 38.4
2.255 37.8
2.285 38.4
2.315 37.8
2.345 38.4
2.375 37.8
2.405 38.4
2.435 37.8
2.465 38.4
2.495 37.8
2.525 38.4
2.555 37.8
2.585 38.4
2.615 37.8
2.645 38.4
2.675 37.8
2.015 39.1
2.045 39.6
2.075 39.1
2.105 39.6
2.135 39.1
2.165 39.6
2.195 39.1
2.225 39.6
2.255 39.1
2.285 39.6
2.315 39.1
2.345 39.6
2.375 39.1
2.405 39.6
2.435 39.1
2.465 39.6
2.495 39.1
2.525 39.6
2.555 39.1
2.585 39.6
2.615 39.1
2.645 39.6
2.675 39.1
2.015 40.4
2.045 40.9
2.075 40.4
2.105 40.9
2.135 40.4
2.165 40.9
2.195 40.4
2.225 40.9
2.255 40.4
2.285 40.9
2.315 40.4
2.345 40.9
2.375 40.4
2.405 40.9
2.435 40.4
2.465 40.9
2.495 40.4
2.525 40.9
2.555 40.4
2.015 41.7
2.045 42.3
2.075 41.7
2.105 42.3
2.135 41.7
2.165 42.3
2.195 41.7
2.225 42.3
2.255 41.7
2.285 42.3
2.315 41.7
2.345 42.3
2.375 41.7
2.405 42.3
2.435 41.7
2.465 42.3
2.495 41.7
2.525 42.3
2.555 41.7
2.015 43.1
2.045 43.7
2.075 43.1
2.105 43.7
2.135 43.1
2.165 43.7
2.195 43.1
2.225 43.7
2.255 43.1
2.285 43.7
2.315 43.1
2.345 43.7
2.375 43.1
2.405 43.7
2.435 43.1
2.465 43.7
2.495 43.1
2.525 43.7
2.555 43.1
2.015 44.6
2.045 45.2
2.075 44.6
2.105 45.2
2.135 44.6
2.165 45.2
2.195 44.6
2.225 45.2
2.255 44.6
2.285 45.2
2.315 44.6
2.345 45.2
2.375 44.6
2.405 45.2
2.435 44.6
2.465 45.2
2.495 44.6
2.525 45.2
2.555 44.6
2.74 24.6
2.83 25.3
2.91 24.2
2.97 26.1
3.06 25.0
3.15 26.9
3.24 24.8
3.33 27.7
2.72 26.9
2.80 27.8
2.88 26.0
2.99 28.6
3.08 27.5
3.19 29.5
3.29 28.2
3.38 26.4
2.76 28.9
2.85 29.6
2.94 27.9
3.04 30.2
3.11 24.4
3.21 26.7
3.51 28.7
3.62 27.6
3.79 29.6
3.58 25.9
3.93 27.0
4.25 28.6
2.81 30.4
2.88 31.5
2.96 32.3
3.04 31.2
3.11 33.1
3.18 32.0
3.27 33.9
3.35 31.4
3.43 32.6
3.52 34.4
3.61 33.1
3.70 31.8
3.82 32.4
3.91 34.1
2.84 33.3
2.92 34.2
3.00 35.2
3.08 36.3
3.16 35.1
3.24 37.3
3.33 36.2
3.41 34.2
3.50 36.4
3.59 37.5
3.67 35.2
3.76 36.3
3.86 37.4
3.95 35.0
4.07 36.2
4.15 34.0
4.36 35.2
4.45 37.3
4.62 36.1
4.80 33.3
2.83 36.0
2.90 37.2
2.98 36.9
3.06 34.1
3.14 37.9
3.22 36.0
3.30 38.0
3.46 37.6
3.66 38.2
3.83 34.6
4.11 38.0
4.29 32.9
4.53 31.4
4.74 38.4
5.05 36.0
5.45 37.2
2.72 39.0
2.79 40.1
2.87 41.2
2.95 39.9
3.03 41.3
3.12 40.0
3.20 42.4
3.28 41.0
3.37 39.7
3.45 42.6
3.55 41.2
3.64 40.0
3.75 42.7
3.85 41.0
3.98 42.2
2.74 42.7
2.82 43.8
2.91 42.5
3.00 44.2
3.09 43.1
3.19 45.3
3.29 44.0
3.38 46.6
3.47 43.7
3.57 45.7
3.69 44.9
3.80 47.0
3.93 45.1
4.08 44.0
4.22 46.6
4.35 42.1
4.51 40.7
4.68 45.1
2.73 45.2
2.82 46.8
2.93 48.2
3.02 46.6
3.15 49.5
3.26 47.7
3.38 49.9
3.58 48.1
3.83 50.9
4.12 49.8
4.48 48.0
4.95 45.0
5.22 41.5
5.58 43.8
5.85 39.9
2.03 57.8
2.12 58.6
2.19 56.9
2.31 57.2
2.04 60.7
2.21 60.9
2.37 61.5
2.09 64.0
2.24 63.6
2.16 66.6
2.33 65.2
2.05 69.6
2.22 70.3
2.44 69.0
2.14 50.0
2.26 49.8
2.38 50.1
2.08 51.8
2.20 51.9
2.32 52.0
2.48 51.8
2.04 53.9
2.13 54.0
2.26 53.8
2.41 53.9
2.64 20.9
2.71 21.8
2.78 22.6
2.85 20.6
2.93 21.6
3.01 22.8
2.68 23.3
2.75 22.1
2.84 23.7
2.92 24.6
3.03 23.4
3.12 22.5
3.20 23.9
3.27 21.8
2.59 18.6
2.67 19.3
2.74 18.3
2.81 19.5
2.93 19.9
3.09 20.3
2.62 17.4
2.71 17.9
2.79 16.9
2.52 16.6
2.60 16.1
2.92 17.7
3.26 18.4
3.45 19.4
3.70 20.6
3.79 22.3
4.00 21.2
4.32 23.5
2.77 31.1
2.83 32.9
2.89 30.2
2.95 34.6
3.01 33.0
3.07 30.9
3.13 35.6
3.19 33.8
3.25 31.2
3.31 36.5
3.37 34.9
3.43 30.4
3.49 38.6
3.55 32.0
2.79 35.0
2.86 36.7
2.92 38.4
2.98 33.9
3.05 37.8
3.11 39.5
3.17 34.3
3.23 40.3
3.29 35.5
3.36 41.6
3.42 37.1
3.48 33.4
3.54 39.0
3.60 35.8
2.78 37.3
2.84 39.8
2.90 42.9
2.96 41.0
3.02 38.9
3.08 44.6
3.14 42.1
3.20 38.3
3.26 43.2
3.32 40.6
3.39 44.7
3.45 40.2
3.51 43.9
3.57 38.0
2.81 28.6
2.87 29.9
2.93 31.7
2.99 30.6
3.05 32.6
3.11 29.0
3.17 31.0
3.23 34.5
3.29 30.1
3.35 33.3
3.41 28.9
3.47 31.9
3.53 30.4
3.59 33.7
3.65 29.4
3.71 34.9
3.77 30.6
3.83 36.9
3.89 32.8
3.95 39.8
2.80 44.0
2.86 45.4
2.92 47.0
2.99 43.4
3.06 45.9
3.13 48.5
3.21 46.9
3.29 42.6
3.36 48.4
3.44 45.2
3.52 47.1
3.62 43.0
3.71 46.2
3.81 40.3
3.90 43.5
4.01 38.9
4.12 41.3
4.21 36.7
4.32 39.6
4.41 33.6
4.53 37.9
4.64 41.9
4.76 35.5
4.88 39.2
5.02 42.5
5.18 37.4
5.33 40.0
5.52 35.3
5.71 41.7
3.68 41.3
3.74 38.7
3.81 44.3
3.88 35.7
3.94 46.8
4.04 33.1
4.16 31.4
4.28 44.2
4.39 46.2
4.57 43.6
4.71 30.1
4.92 33.2
5.09 44.3
5.26 32.2
5.42 46.8
5.61 38.5
5.90 36.2
2.02 46.7
2.06 48.0
2.10 46.4
2.14 47.9
2.22 48.1
2.26 46.8
2.30 48.4
2.35 46.6
2.40 48.2
2.46 46.9
2.52 48.3
2.04 50.9
2.09 49.7
2.15 51.6
2.21 50.8
2.27 52.6
2.34 51.2
2.40 52.8
2.47 50.4
2.55 52.0
2.02 53.6
2.07 54.7
2.13 55.9
2.19 53.4
2.25 56.3
2.32 55.7
2.39 56.6
2.50 55.9
2.06 58.2
2.12 59.9
2.18 61.2
2.24 58.4
2.29 61.9
2.35 59.6
2.47 59.9
2.58 58.6
2.03 62.9
2.10 61.3
2.18 63.7
2.26 62.4
2.34 64.0
2.44 63.0
2.56 21.3
2.60 23.9
2.63 25.6
2.66 22.0
2.69 24.6
2.72 20.5
2.75 25.9
2.78 23.0
2.81 21.2
2.84 26.4
2.87 22.3
2.90 25.0
2.94 23.1
2.97 20.8
3.00 24.8
3.04 26.6
3.07 22.0
3.10 25.6
3.14 23.7
3.18 27.2
3.22 21.3
3.26 25.4
3.31 23.4
3.36 26.2
3.41 22.5
3.47 24.5
3.53 27.0
3.60 23.2
3.68 25.0
3.76 27.9
2.58 20.0
2.65 19.6
2.88 19.0
2.99 20.1
3.13 19.6
3.32 20.8
3.50 23.8
3.85 25.3
4.08 23.2
2.47 12.9
2.62 13.6
2.78 14.6
2.35 12.0
2.55 15.6
2.66 15.0
2.92 16.0
3.02 16.4
}\parentb

\pgfplotsset{
  myleg/.style={legend image code/.code={%
    \path (0pt,0pt) (47pt,0pt);
    \draw[##1] plot coordinates {(17pt,0pt)};}},
}

\begin{document}
\begin{tikzpicture}
\begin{axis}[
  name=ax,
  width=519pt, height=519pt, scale only axis,
  xmin=0, xmax=6, ymin=10, ymax=100, ymode=log,
  xtick={0,2,4,6},
  ytick={10,20,50,100}, yticklabels={10,20,50,100},
  minor ytick={30,40,60,70,80,90},
  tick align=outside, tick pos=left,
  major tick length=6pt, minor tick length=3.5pt,
  tick style={black, line width=1.2pt},
  minor tick style={line width=0.9pt},
  axis line style={line width=1.5pt},
  tick label style={font=\fontsize{18}{21}\selectfont},
  /pgf/number format/assume math mode=true,
  xlabel={redshift},
  ylabel={500 \textit{μ}m flux density [mJy]},
  label style={font=\fontsize{28.5}{34}\selectfont},
  xlabel style={at={(axis description cs:0.5,-0.1137)}, anchor=base},
  ylabel style={at={(axis description cs:-0.1329,0.5)}, anchor=center},
  legend cell align=left,
  legend style={at={(axis description cs:1,0)}, anchor=south east,
    xshift=-10pt, yshift=10pt, draw=black!20, line width=0.8pt,
    rounded corners=3pt, fill=white, fill opacity=0.8, text opacity=1,
    draw opacity=1, inner xsep=5pt, inner ysep=7pt, row sep=7pt,
    nodes={inner sep=2pt},
    font=\fontsize{18}{21}\selectfont},
]
\addlegendimage{myleg, only marks, mark=square, mark size=6pt, lensred,
  mark options={line width=1.6pt, sharp corners, fill opacity=1, draw opacity=1}}
\addlegendentry{Lens Sample}
\addlegendimage{myleg, only marks, mark=o, mark size=6.3pt, vikblue,
  mark options={line width=1.6pt, fill opacity=1, draw opacity=1}}
\addlegendentry{VIKING sources}
\addlegendimage{myleg, only marks, mark=*, mark size=1.8pt, parentgrey,
  mark options={fill opacity=1, draw opacity=1}}
\addlegendentry{Parent sample}

% dotted connectors from VIKING source to lens
\addplot[only marks, mark=none, forget plot,
  error bars/.cd, x dir=plus, x explicit, error mark=none,
  error bar style={draw=vikblue, draw opacity=0.35, line width=0.8pt,
    dash pattern=on 0.8pt off 1.6pt}]
  table[x=zv, y=S, x error expr=\thisrow{zl}-\thisrow{zv}] {\pairs};

% parent sample
\addplot[only marks, mark=*, mark size=2.1pt, parentgrey, forget plot,
  mark options={draw=none, fill=parentgrey}]
  table[x=z, y=S] {\parent};
\addplot[only marks, mark=*, mark size=2.1pt, parentgrey, forget plot,
  mark options={draw=none, fill=parentgrey}]
  table[x=z, y=S] {\parentb};

% lens sample
\addplot[only marks, mark=square, mark size=6pt, lensred, forget plot,
  mark options={line width=1.7pt}]
  table[x=z, y=S] {\lens};
\addplot[only marks, mark=*, mark size=1.8pt, lensred, forget plot,
  mark options={draw=none, fill=lensred}]
  table[x=z, y=S] {\lens};

% VIKING sources
\addplot[only marks, mark=o, mark size=6.3pt, vikblue, forget plot,
  mark options={line width=1.6pt}]
  table[x=zv, y=S] {\pairs};
\addplot[only marks, mark=*, mark size=1.8pt, vikblue, forget plot,
  mark options={draw=none, fill=vikblue}]
  table[x=zv, y=S] {\pairs};
\end{axis}
\pgfresetboundingbox
\path[use as bounding box] (ax.south west) ++(-94pt,-69pt) rectangle ++(616pt,597pt);
\end{tikzpicture}
\end{document}
